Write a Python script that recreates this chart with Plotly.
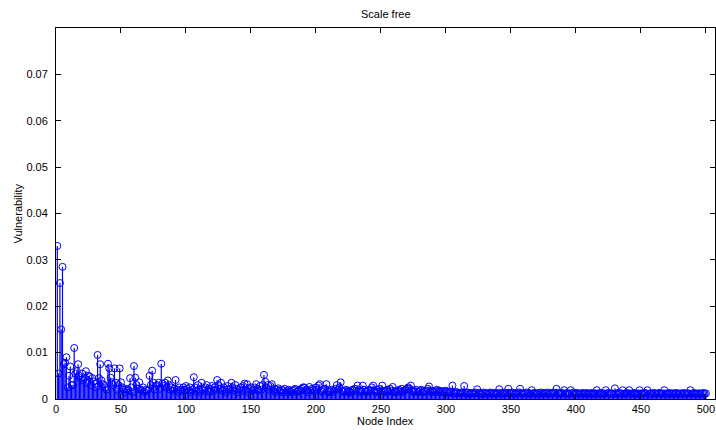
import plotly.graph_objects as go

# Vulnerability per node, in units of 1e-4
seg_001_100 = [330, 55, 250, 150, 285, 75, 78, 90, 25, 50,
               70, 30, 30, 110, 55, 60, 75, 50, 45, 55,
               40, 45, 60, 35, 50, 48, 30, 45, 38, 33,
               25, 95, 45, 75, 40, 32, 30, 25, 20, 76,
               66, 46, 36, 30, 66, 35, 20, 30, 66, 36,
               25, 20, 15, 22, 20, 18, 45, 25, 15, 71,
               46, 30, 22, 36, 20, 18, 25, 15, 20, 18,
               20, 50, 30, 61, 35, 20, 28, 30, 35, 22,
               76, 33, 28, 35, 25, 40, 30, 20, 25, 18,
               22, 41, 20, 15, 25, 20, 18, 25, 20, 28]
seg_101_200 = [22, 18, 25, 15, 20, 47, 25, 18, 30, 20,
               15, 35, 22, 18, 25, 30, 20, 15, 22, 28,
               18, 25, 20, 41, 30, 22, 35, 18, 25, 20,
               15, 28, 22, 20, 35, 25, 18, 30, 22, 15,
               20, 25, 18, 28, 33, 20, 32, 15, 22, 25,
               18, 20, 25, 32, 22, 18, 28, 20, 30, 52,
               37, 25, 30, 20, 28, 32, 18, 22, 15, 20,
               23, 18, 15, 20, 17, 22, 15, 18, 20, 16,
               15, 18, 20, 22, 15, 17, 20, 18, 22, 25,
               25, 18, 20, 15, 26, 18, 22, 20, 17, 25]
seg_201_300 = [20, 29, 32, 18, 15, 20, 22, 32, 18, 15,
               17, 20, 15, 18, 22, 30, 20, 25, 36, 18,
               15, 17, 20, 15, 18, 16, 14, 20, 18, 22,
               18, 29, 20, 15, 17, 29, 20, 16, 15, 18,
               20, 17, 25, 29, 18, 15, 20, 16, 22, 18,
               29, 17, 15, 18, 20, 16, 22, 18, 26, 15,
               17, 15, 18, 20, 16, 22, 15, 18, 20, 22,
               25, 22, 29, 18, 15, 17, 20, 16, 15, 18,
               20, 15, 17, 16, 18, 22, 27, 15, 18, 16,
               15, 17, 20, 15, 18, 16, 14, 17, 15, 18]
seg_301_400 = [15, 13, 16, 14, 29, 13, 12, 15, 14, 12,
               13, 14, 12, 28, 13, 12, 14, 11, 13, 12,
               13, 12, 14, 21, 12, 13, 11, 12, 14, 12,
               13, 11, 12, 14, 12, 13, 12, 11, 13, 12,
               21, 12, 13, 11, 14, 12, 13, 22, 12, 13,
               14, 12, 11, 13, 12, 14, 22, 12, 11, 13,
               12, 14, 12, 13, 11, 19, 12, 13, 12, 11,
               13, 12, 14, 11, 12, 13, 12, 14, 11, 12,
               13, 12, 14, 12, 22, 13, 11, 12, 13, 12,
               19, 12, 13, 11, 12, 19, 12, 14, 11, 12]
seg_401_500 = [13, 12, 11, 12, 13, 12, 11, 13, 12, 11,
               12, 13, 11, 12, 12, 19, 12, 11, 13, 12,
               11, 12, 19, 12, 13, 11, 12, 12, 11, 23,
               12, 11, 13, 12, 12, 19, 11, 12, 13, 12,
               19, 12, 11, 12, 13, 12, 11, 12, 19, 12,
               11, 12, 13, 12, 19, 11, 12, 12, 11, 13,
               12, 11, 12, 13, 12, 11, 12, 19, 12, 11,
               12, 13, 11, 12, 12, 11, 13, 12, 11, 12,
               12, 11, 13, 12, 11, 12, 12, 19, 11, 12,
               13, 12, 11, 12, 12, 11, 12, 13, 11, 12]

x_ticks = [0, 50, 100, 150, 200, 250, 300, 350, 400, 450, 500]
y_ticks = [0, 0.01, 0.02, 0.03, 0.04, 0.05, 0.06, 0.07]
y_tick_labels = ["0", "0.01", "0.02", "0.03", "0.04", "0.05", "0.06", "0.07"]

raw = seg_001_100 + seg_101_200 + seg_201_300 + seg_301_400 + seg_401_500
values = [v * 1e-4 for v in raw]
nodes = list(range(1, len(values) + 1))

stem_x, stem_y = [], []
for n, v in zip(nodes, values):
    stem_x += [n, n, None]
    stem_y += [0, v, None]

BLUE = "#0000ff"
FONT = "Liberation Sans, Arial, sans-serif"

fig = go.Figure()
fig.add_trace(go.Scatter(x=stem_x, y=stem_y, mode="lines",
                         line=dict(color=BLUE, width=1.2), hoverinfo="skip"))
fig.add_trace(go.Scatter(x=nodes, y=values, mode="markers",
                         marker=dict(symbol="circle-open", size=7, color=BLUE,
                                     line=dict(color=BLUE, width=1))))

axis_common = dict(showline=True, linecolor="black", linewidth=1, mirror="ticks",
                   ticks="inside", ticklen=5, tickcolor="black", showgrid=False,
                   zeroline=False, automargin=False,
                   tickfont=dict(family=FONT, size=11, color="black"))

fig.update_layout(
    width=716, height=430,
    margin=dict(l=56, r=1, t=28, b=31),
    paper_bgcolor="white", plot_bgcolor="white",
    showlegend=False,
    font=dict(family=FONT, size=11, color="black"),
    xaxis=dict(range=[0, 507], tickvals=x_ticks, **axis_common),
    yaxis=dict(range=[0, 0.08], tickvals=y_ticks, ticktext=y_tick_labels,
               ticklabelstandoff=5, **axis_common),
    annotations=[
        dict(text="Scale free", x=0.5, y=1 + 14 / 371, xref="paper", yref="paper",
             showarrow=False, xanchor="center", yanchor="middle",
             font=dict(family=FONT, size=11, color="black")),
        dict(text="Node Index", x=0.5, y=-22 / 371, xref="paper", yref="paper",
             showarrow=False, xanchor="center", yanchor="middle",
             font=dict(family=FONT, size=11, color="black")),
        dict(text="Vulnerability", x=-39 / 659, y=0.5, xref="paper", yref="paper",
             showarrow=False, xanchor="center", yanchor="middle", textangle=-90,
             font=dict(family=FONT, size=11, color="black")),
    ],
)

fig.write_html("out.html", config={"displayModeBar": False},
               post_script="document.body.style.margin='0';")
